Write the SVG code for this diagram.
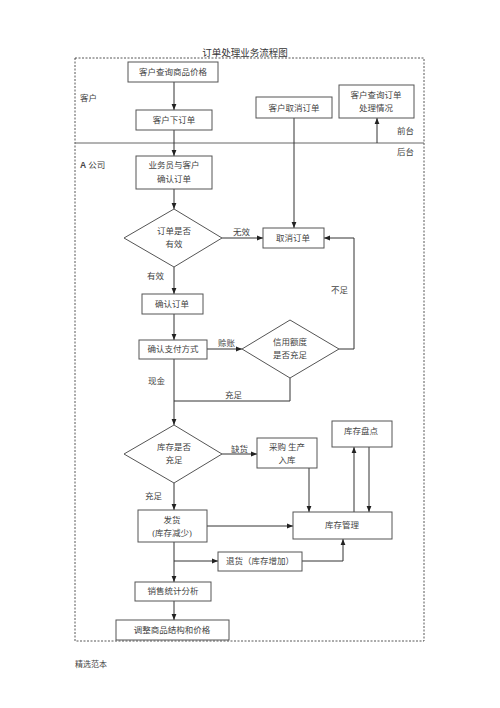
<svg xmlns="http://www.w3.org/2000/svg" width="500" height="708" viewBox="0 0 500 708">
<style>
text{font-family:"Liberation Serif","Noto Sans CJK SC",serif;font-size:8.5px;fill:#444;}
.t{text-anchor:middle;}
.box{fill:#fff;stroke:#555;stroke-width:1;}
.ln{fill:none;stroke:#333;stroke-width:1;}
.dash{fill:none;stroke:#444;stroke-width:0.9;stroke-dasharray:2,1.5;}
</style>
<defs>
<marker id="ah" viewBox="0 0 10 10" refX="10" refY="5" markerWidth="6" markerHeight="6" orient="auto" markerUnits="userSpaceOnUse">
<path d="M0,1 L10,5 L0,9 z" fill="#222"/>
</marker>
</defs>
<rect width="500" height="708" fill="#fff"/>
<text class="t" x="245" y="56" style="font-size:9.5px;fill:#333">订单处理业务流程图</text>
<rect class="dash" x="75" y="58" width="349" height="583"/>
<line x1="75" y1="143" x2="424" y2="143" stroke="#666" stroke-width="1"/>
<text x="80" y="101">客户</text>
<text x="80" y="168"><tspan style="font-weight:bold;font-family:'Liberation Sans',sans-serif">A</tspan> 公司</text>
<text x="397" y="134">前台</text>
<text x="397" y="155">后台</text>
<text x="75" y="667" style="font-size:8px">精选范本</text>

<g id="connectors">
<line class="ln" x1="174" y1="82" x2="174" y2="110" marker-end="url(#ah)"/>
<line class="ln" x1="174" y1="130" x2="174" y2="156" marker-end="url(#ah)"/>
<line class="ln" x1="174" y1="189" x2="174" y2="209" marker-end="url(#ah)"/>
<line class="ln" x1="294" y1="118" x2="294" y2="228" marker-end="url(#ah)"/>
<line class="ln" x1="377" y1="143" x2="377" y2="118" marker-end="url(#ah)"/>
<line class="ln" x1="222" y1="238" x2="263" y2="238" marker-end="url(#ah)"/>
<line class="ln" x1="174" y1="267" x2="174" y2="294" marker-end="url(#ah)"/>
<line class="ln" x1="174" y1="314" x2="174" y2="340" marker-end="url(#ah)"/>
<line class="ln" x1="207" y1="349" x2="242" y2="349" marker-end="url(#ah)"/>
<polyline class="ln" points="339,349 354,349 354,238 324,238" marker-end="url(#ah)"/>
<polyline class="ln" points="290,378 290,401 174,401"/>
<line class="ln" x1="174" y1="359" x2="174" y2="425" marker-end="url(#ah)"/>
<line class="ln" x1="222" y1="454" x2="257" y2="454" marker-end="url(#ah)"/>
<line class="ln" x1="309" y1="468" x2="309" y2="512" marker-end="url(#ah)"/>
<line class="ln" x1="354" y1="512" x2="354" y2="447" marker-end="url(#ah)"/>
<line class="ln" x1="369" y1="447" x2="369" y2="512" marker-end="url(#ah)"/>
<line class="ln" x1="174" y1="483" x2="174" y2="510" marker-end="url(#ah)"/>
<line class="ln" x1="207" y1="526" x2="293" y2="526" marker-end="url(#ah)"/>
<line class="ln" x1="174" y1="542" x2="174" y2="582" marker-end="url(#ah)"/>
<line class="ln" x1="174" y1="561" x2="218" y2="561" marker-end="url(#ah)"/>
<polyline class="ln" points="302,561 343,561 343,539" marker-end="url(#ah)"/>
<line class="ln" x1="174" y1="601" x2="174" y2="620" marker-end="url(#ah)"/>
<text x="233" y="235">无效</text>
<text x="147" y="279">有效</text>
<text x="218" y="346">赊账</text>
<text x="331" y="293">不足</text>
<text x="148" y="384">现金</text>
<text x="225" y="398">充足</text>
<text x="231" y="452">缺货</text>
<text x="145" y="499">充足</text>
</g>

<g id="n1"><rect class="box" x="128" y="62" width="90" height="20"/><text class="t" x="173" y="75">客户查询商品价格</text></g>
<g id="n2"><rect class="box" x="136" y="110" width="76" height="20"/><text class="t" x="174" y="123">客户下订单</text></g>
<g id="n3"><rect class="box" x="256" y="97" width="76" height="21"/><text class="t" x="294" y="111">客户取消订单</text></g>
<g id="n4"><rect class="box" x="339" y="85" width="75" height="33"/><text class="t" x="376" y="98">客户查询订单</text><text class="t" x="376" y="111">处理情况</text></g>
<g id="n5"><rect class="box" x="136" y="156" width="76" height="33"/><text class="t" x="174" y="168">业务员与客户</text><text class="t" x="174" y="182">确认订单</text></g>
<g id="n6"><polygon class="box" points="174,209 222,238 174,267 124,238"/><text class="t" x="174" y="234">订单是否</text><text class="t" x="174" y="247">有效</text></g>
<g id="n7"><rect class="box" x="263" y="228" width="61" height="20"/><text class="t" x="293" y="241">取消订单</text></g>
<g id="n8"><rect class="box" x="142" y="294" width="61" height="20"/><text class="t" x="172" y="307">确认订单</text></g>
<g id="n9"><rect class="box" x="139" y="340" width="68" height="19"/><text class="t" x="173" y="352">确认支付方式</text></g>
<g id="n10"><polygon class="box" points="290,320 339,349 290,378 242,349"/><text class="t" x="290" y="345">信用额度</text><text class="t" x="290" y="358">是否充足</text></g>
<g id="n11"><polygon class="box" points="174,425 222,454 174,483 124,454"/><text class="t" x="174" y="450">库存是否</text><text class="t" x="174" y="463">充足</text></g>
<g id="n12"><rect class="box" x="257" y="438" width="60" height="30"/><text class="t" x="287" y="450">采购  生产</text><text class="t" x="287" y="463">入库</text></g>
<g id="n13"><rect class="box" x="332" y="421" width="60" height="26"/><text class="t" x="361" y="434">库存盘点</text></g>
<g id="n14"><rect class="box" x="293" y="512" width="99" height="27"/><text class="t" x="342" y="528">库存管理</text></g>
<g id="n15"><rect class="box" x="138" y="510" width="69" height="32"/><text class="t" x="172" y="523">发货</text><text class="t" x="172" y="536">(库存减少)</text></g>
<g id="n16"><rect class="box" x="218" y="552" width="84" height="19"/><text class="t" x="260" y="564">退货（库存增加）</text></g>
<g id="n17"><rect class="box" x="135" y="582" width="76" height="19"/><text class="t" x="173" y="594">销售统计分析</text></g>
<g id="n18"><rect class="box" x="116" y="620" width="113" height="20"/><text class="t" x="172" y="633">调整商品结构和价格</text></g>
</svg>
